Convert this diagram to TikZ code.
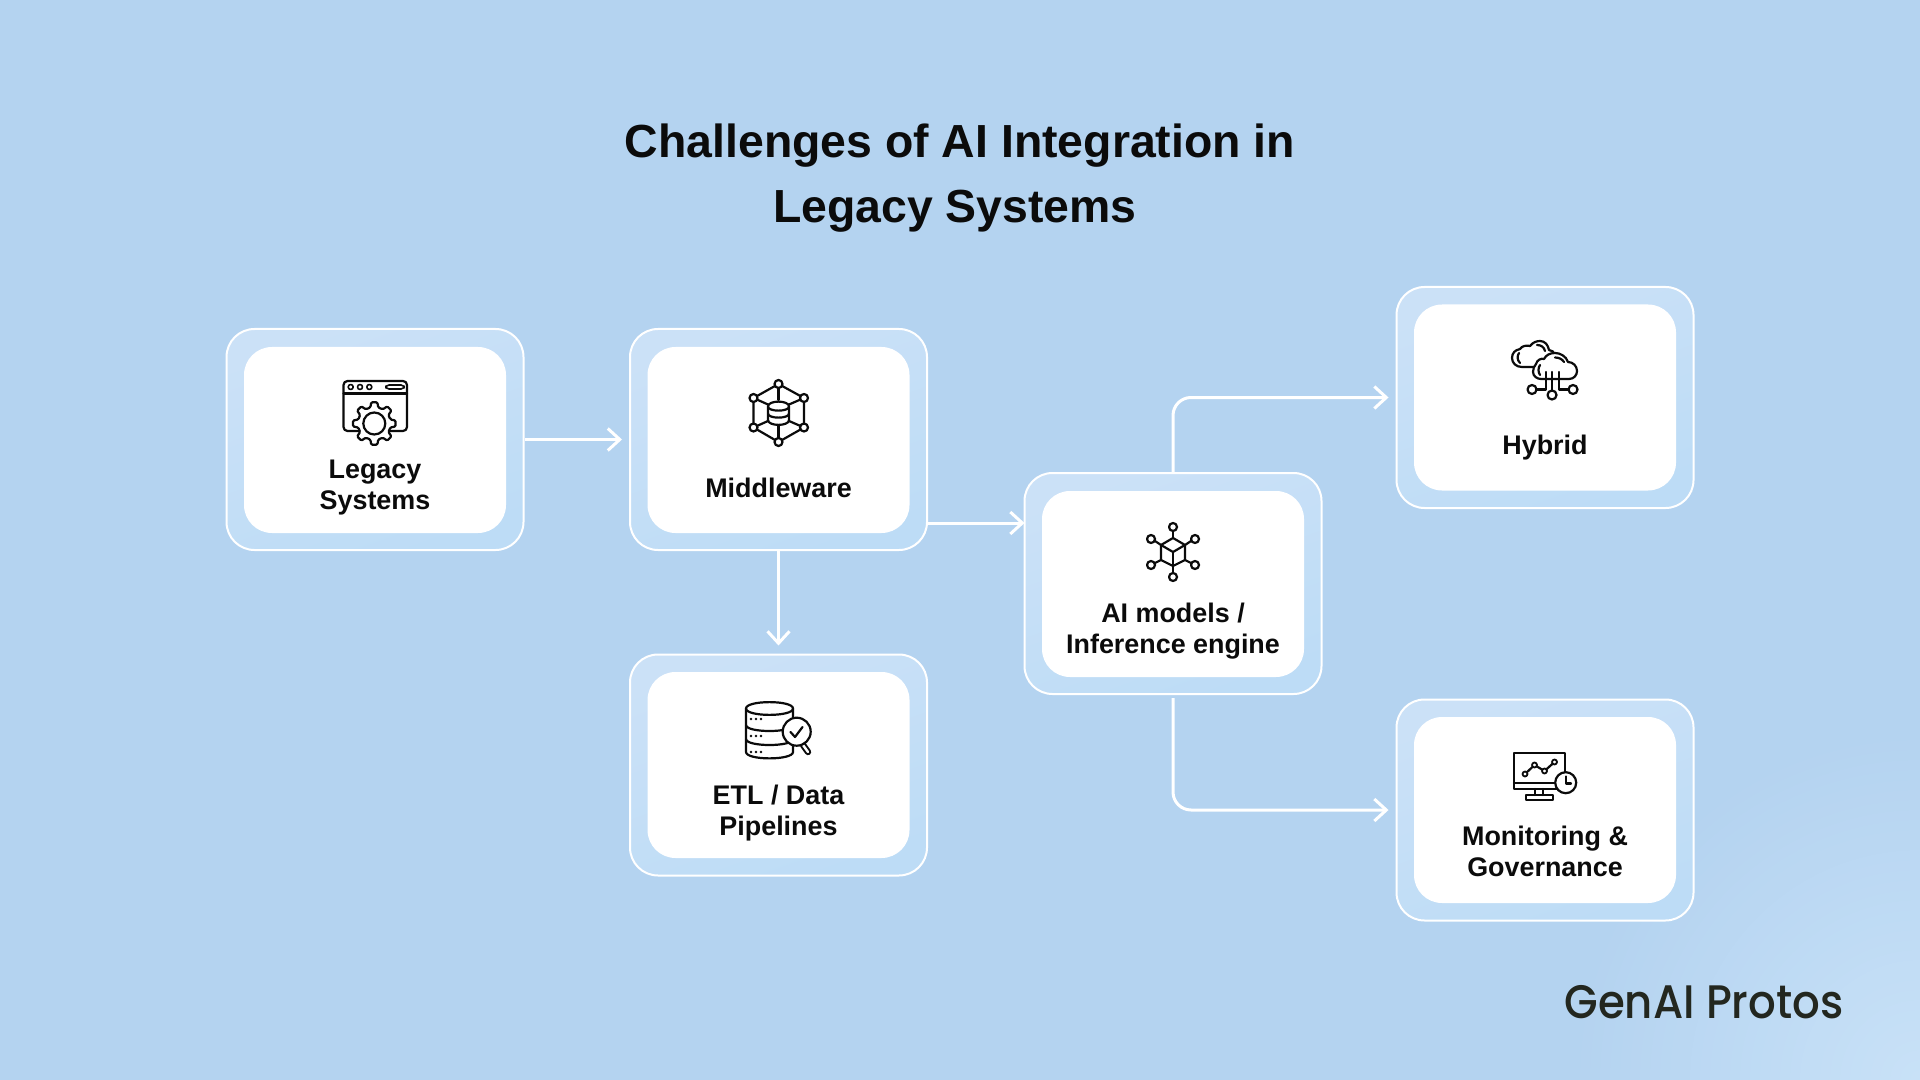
\documentclass[tikz,border=0pt]{standalone}
\usepackage{fontspec}
\setmainfont{Liberation Sans}
\newfontfamily\logofont[FakeStretch=0.925,UprightFont=* Medium]{Poppins}
\usetikzlibrary{arrows.meta}
\definecolor{bgbase}{HTML}{B4D3F0}
\definecolor{bgglow}{HTML}{C8E1F7}
\definecolor{cardA}{HTML}{CBE1F7}
\definecolor{cardB}{HTML}{BDDCF6}
\definecolor{inkc}{HTML}{0B0B0B}
\definecolor{logoc}{HTML}{23271F}
\tikzset{
  outerbox/.style={draw=white,line width=1pt,rounded corners=14pt,minimum width=148.5pt,minimum height=110.5pt,inner sep=0pt,top color=cardA,bottom color=cardB,shading angle=20},
  innerbox/.style={fill=white,rounded corners=14pt,minimum width=131pt,minimum height=93pt,inner sep=0pt},
  cardtext/.style={font=\fontsize{13.45pt}{15.6pt}\selectfont\bfseries,text=inkc,align=center,inner sep=0pt},
  titletext/.style={font=\fontsize{23.2pt}{32.5pt}\selectfont\bfseries,text=inkc,align=center,inner sep=0pt},
  flow/.style={draw=white,line width=1.5pt,-{Straight Barb[length=6pt,width=11pt,line width=1.5pt]}},
  iconline/.style={draw=inkc,line width=1.1pt,line join=round,line cap=round},
}
\begin{document}
\begin{tikzpicture}[x=0.5pt,y=-0.5pt]
\useasboundingbox (0,0) rectangle (1920,1080);
\fill[bgbase] (0,0) rectangle (1920,1080);
\begin{scope}
\clip (0,0) rectangle (1920,1080);
\foreach \r in {1,...,34} {
  \pgfmathsetmacro{\pct}{\r*100/34}
  \pgfmathsetmacro{\rad}{340-(\r-1)*10}
  \fill[bgglow!\pct!bgbase] (1920,1080) circle (\rad);
}
\end{scope}

\node[titletext] (title) at (960,178.5) {Challenges of AI Integration in\\Legacy Systems\hspace*{5pt}};

% cards
\node[outerbox] (legacyO) at (375,439.5) {};
\node[innerbox] (legacyI) at (375,440) {};
\node[outerbox] (midO) at (778.5,439.5) {};
\node[innerbox] (midI) at (778.5,440) {};
\node[outerbox] (etlO) at (778.5,765) {};
\node[innerbox] (etlI) at (778.5,765) {};
\node[outerbox] (aiO) at (1173,583.5) {};
\node[innerbox] (aiI) at (1173,584) {};
\node[outerbox] (hybO) at (1545,397.5) {};
\node[innerbox] (hybI) at (1545,397.5) {};
\node[outerbox] (monO) at (1545,810) {};
\node[innerbox] (monI) at (1545,810) {};

% labels
\node[cardtext] (legacyT) at (375,487.5) {Legacy\\Systems};
\node[cardtext] (midT) at (778.5,487.5) {Middleware};
\node[cardtext] (etlT) at (778.5,813) {ETL / Data\\Pipelines};
\node[cardtext] (aiT) at (1173,631) {AI models /\\Inference engine};
\node[cardtext] (hybT) at (1545,447.5) {Hybrid};
\node[cardtext] (monT) at (1545,851.5) {Monitoring \&\\Governance};

% connectors
\coordinate (m2a) at (928,523);
\draw[flow,shorten >=3.5pt] (legacyO.east) -- (midO.west);
\draw[flow,shorten >=-0.5pt] (m2a) -- (m2a -| aiO.west);
\draw[flow,shorten >=4pt] (midO.south) -- (etlO.north);
\draw[flow,rounded corners=9pt,shorten >=3.5pt] (aiO.north) -- (aiO.north |- hybO.west) -- (hybO.west);
\draw[flow,rounded corners=9pt,shorten >=3.5pt,shorten <=1.5pt] (aiO.south) -- (aiO.south |- monO.west) -- (monO.west);

% legacy icon
\begin{scope}[iconline]
\draw[rounded corners=2pt] (343.5,381) rectangle (407,431);
\draw (343.5,393.5) -- (407,393.5);
\foreach \x in {350.7,360,369.3} \draw[line width=0.8pt] (\x,387) circle (2.5);
\draw[line width=0.8pt,rounded corners=1.5pt] (386,385) rectangle (404,389);
\begin{scope}[shift={(374.3,423.5)}]
\draw[fill=white,rounded corners=0.6pt] (-14:16.5) \foreach \a in {0,45,...,315} { -- (\a-14:16.5) -- (\a-8:21.5) -- (\a+8:21.5) -- (\a+14:16.5) } -- cycle;
\draw (0,0) circle (11);
\end{scope}
\end{scope}

% middleware icon
\begin{scope}[iconline]
\coordinate (mt) at (778.5,384);
\coordinate (mul) at (753.5,398);
\coordinate (mur) at (804,398);
\coordinate (mll) at (753.5,427.5);
\coordinate (mlr) at (804,427.5);
\coordinate (mb) at (778.5,442);
\draw (mt) -- (mur) -- (mlr) -- (mb) -- (mll) -- (mul) -- cycle;
\draw (mt) -- (778.5,400);
\draw (mb) -- (778.5,425);
\draw (mul) -- (768,404.5);
\draw (mur) -- (789,404.5);
\draw (mll) -- (768,421);
\draw (mlr) -- (789,421);
\foreach \p in {mt,mul,mur,mll,mlr,mb} \draw[fill=white] (\p) circle (4);
\draw[fill=white] (768,406.5) .. controls (768,400) and (789,400) .. (789,406.5) -- (789,420) .. controls (789,426.5) and (768,426.5) .. (768,420) -- cycle;
\draw (768,406.5) .. controls (768,412) and (789,412) .. (789,406.5);
\draw (768,413.5) .. controls (768,419) and (789,419) .. (789,413.5);
\end{scope}

% etl icon
\begin{scope}[iconline]
\draw[fill=white] (746,708.5) .. controls (746,700) and (793,700) .. (793,708.5) -- (793,752) .. controls (793,760.5) and (746,760.5) .. (746,752) -- cycle;
\draw (746,708.5) .. controls (746,717) and (793,717) .. (793,708.5);
\draw (746,725) .. controls (746,733) and (793,733) .. (793,725);
\draw (746,739) .. controls (746,747) and (793,747) .. (793,739);
\foreach \y in {719,736,752} \foreach \x in {751,756,761} \fill[inkc] (\x,\y) circle (1.4);
\draw[line width=3.2pt] (803,745) -- (808,752);
\draw[line width=1.2pt,draw=white] (803,745) -- (808,752);
\draw[fill=white] (796.7,731.7) circle (14);
\draw (790.5,732) -- (795,737) -- (802.5,727);
\end{scope}

% ai icon
\begin{scope}[iconline]
\coordinate (at) at (1173,538);
\coordinate (aul) at (1161,545);
\coordinate (aur) at (1185,545);
\coordinate (ac) at (1173,552);
\coordinate (all) at (1161,560);
\coordinate (alr) at (1185,560);
\coordinate (ab) at (1173,566);
\draw (at) -- (aur) -- (alr) -- (ab) -- (all) -- (aul) -- cycle;
\draw (aul) -- (ac) -- (aur);
\draw (ac) -- (ab);
\draw (at) -- (1173,531);
\draw (ab) -- (1173,573);
\draw (aul) -- (1155,541);
\draw (aur) -- (1191,541);
\draw (all) -- (1155,563);
\draw (alr) -- (1191,563);
\foreach \cx/\cy in {1173/527,1173/577,1151/539,1195/539,1151/565,1195/565} \draw[fill=white] (\cx,\cy) circle (4);
\end{scope}

% hybrid icon
\begin{scope}[iconline]
\draw[fill=white] (1522,367) .. controls (1516,367) and (1512,363) .. (1512,358) .. controls (1512,353) and (1515,350) .. (1520,349) .. controls (1522,346) and (1526,345) .. (1530,346) .. controls (1533,342) and (1537,341) .. (1540,341) .. controls (1545,341) and (1548,345) .. (1549,350) .. controls (1552,350) and (1554,352) .. (1555,355) -- (1545,367) -- cycle;
\draw (1519,353) .. controls (1517,356) and (1517,360) .. (1520,363);
\draw (1537,345) .. controls (1541,345) and (1544,347) .. (1545,351);
\draw[fill=white] (1541,379) -- (1569,379) .. controls (1574,379) and (1577,375) .. (1577,371) .. controls (1577,366) and (1573,362) .. (1568,362) .. controls (1566,356) and (1560,353) .. (1555,353) .. controls (1550,353) and (1546,355) .. (1544,359) .. controls (1541,358) and (1537,360) .. (1536,364) .. controls (1534,366) and (1533,369) .. (1533,372) .. controls (1533,376) and (1537,379) .. (1541,379) -- cycle;
\draw (1540,365) .. controls (1538,368) and (1538,372) .. (1540,375);
\draw (1555,357.5) .. controls (1559,357.5) and (1562,359) .. (1564,362);
\draw (1545.7,372) -- (1545.7,389.5) -- (1536.5,389.5);
\draw (1552,372) -- (1552,390.5);
\draw (1559,372) -- (1559,389.5) -- (1568.5,389.5);
\draw (1532,389.5) circle (4.5);
\draw (1552,395) circle (4.5);
\draw (1573,389.5) circle (4.5);
\end{scope}

% monitoring icon
\begin{scope}[iconline]
\draw (1514,753) rectangle (1565,789);
\draw (1514,783) -- (1565,783);
\draw (1535,789) -- (1535,795);
\draw (1543,789) -- (1543,795);
\draw (1526,795) rectangle (1553,800);
\draw (1525,774) -- (1534.5,765) -- (1544.5,771) -- (1554.5,762);
\foreach \cx/\cy in {1525/774,1534.5/765,1544.5/771,1554.5/762} \draw[fill=white,line width=0.9pt] (\cx,\cy) circle (2.5);
\draw[fill=white] (1565.7,782.7) circle (10.5);
\draw (1566,776.5) -- (1566,783.5) -- (1571,783.5);
\end{scope}

\node[inner sep=0pt,anchor=base west,text=logoc,font=\logofont\fontsize{23.5pt}{28pt}\selectfont] (logo) at (1564,1018) {GenAI Protos};
\end{tikzpicture}
\end{document}
